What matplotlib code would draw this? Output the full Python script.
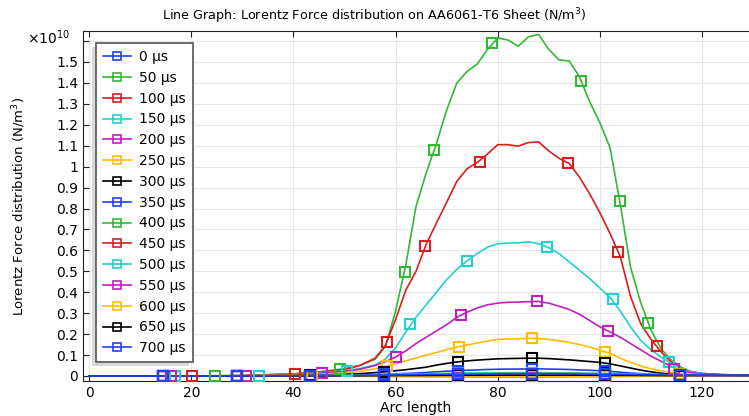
import matplotlib
matplotlib.use("Agg")
import matplotlib.pyplot as plt
from matplotlib.patches import Rectangle
from matplotlib.ticker import FuncFormatter

# arc length grid (mm) used by the large curves
x_fine = [0, 10, 20, 30, 40, 45, 50, 53, 56, 58, 60, 62, 64, 66, 68, 70, 72, 74, 76, 78,
          80, 82, 84, 86, 88, 90, 92, 94, 96, 98, 100, 102, 104, 106, 108, 110, 112, 114,
          116, 118, 120, 124, 130]
# coarse grid for the nearly flat curves
x_coarse = [0, 20, 40, 50, 60, 70, 80, 86, 95, 105, 115, 120, 130]

# Lorentz force, units of 1e10 N/m^3
y_50 = [0, 0, 0, 0.002, 0.01, 0.02, 0.035, 0.05, 0.08, 0.14, 0.31, 0.53, 0.81, 0.97, 1.11,
        1.27, 1.40, 1.455, 1.49, 1.56, 1.615, 1.605, 1.575, 1.62, 1.632, 1.56, 1.51, 1.505,
        1.43, 1.31, 1.21, 1.09, 0.82, 0.52, 0.35, 0.22, 0.13, 0.075, 0.04, 0.02, 0.012,
        0.006, 0.004]
y_100 = [0, 0, 0, 0.002, 0.01, 0.018, 0.03, 0.05, 0.085, 0.145, 0.27, 0.41, 0.50, 0.63,
         0.73, 0.83, 0.93, 0.99, 1.02, 1.06, 1.105, 1.105, 1.098, 1.115, 1.118, 1.075, 1.04,
         1.015, 0.95, 0.87, 0.78, 0.68, 0.57, 0.38, 0.25, 0.175, 0.115, 0.065, 0.035, 0.02,
         0.012, 0.006, 0.004]
y_150 = [0, 0, 0, 0.001, 0.008, 0.015, 0.025, 0.035, 0.053, 0.08, 0.135, 0.21, 0.28, 0.34,
         0.40, 0.46, 0.51, 0.55, 0.585, 0.615, 0.632, 0.635, 0.636, 0.641, 0.632, 0.613,
         0.585, 0.545, 0.505, 0.465, 0.42, 0.375, 0.31, 0.235, 0.17, 0.125, 0.09, 0.06,
         0.035, 0.02, 0.012, 0.006, 0.004]
y_200 = [0, 0, 0, 0.001, 0.006, 0.013, 0.022, 0.032, 0.05, 0.068, 0.09, 0.12, 0.155, 0.185,
         0.215, 0.245, 0.28, 0.305, 0.325, 0.34, 0.348, 0.352, 0.353, 0.355, 0.356, 0.348,
         0.333, 0.318, 0.295, 0.265, 0.235, 0.21, 0.185, 0.155, 0.125, 0.095, 0.07, 0.045,
         0.025, 0.015, 0.01, 0.006, 0.004]
y_250 = [0, 0, 0, 0.001, 0.004, 0.008, 0.015, 0.022, 0.035, 0.046, 0.058, 0.072, 0.086,
         0.10, 0.112, 0.125, 0.138, 0.148, 0.158, 0.167, 0.174, 0.177, 0.178, 0.18, 0.179,
         0.175, 0.168, 0.16, 0.15, 0.138, 0.123, 0.108, 0.085, 0.065, 0.048, 0.034, 0.024,
         0.016, 0.01, 0.007, 0.006, 0.005, 0.004]
y_300 = [0, 0, 0, 0.001, 0.002, 0.004, 0.008, 0.011, 0.016, 0.02, 0.025, 0.03, 0.036, 0.042,
         0.052, 0.06, 0.067, 0.072, 0.076, 0.079, 0.082, 0.083, 0.084, 0.085, 0.085, 0.083,
         0.08, 0.077, 0.073, 0.069, 0.065, 0.058, 0.048, 0.038, 0.028, 0.02, 0.013, 0.008,
         0.005, 0.004, 0.004, 0.004, 0.004]
y_350 = [0, 0, 0, 0, 0.001, 0.002, 0.003, 0.004, 0.006, 0.008, 0.01, 0.012, 0.014, 0.017,
         0.02, 0.023, 0.025, 0.027, 0.029, 0.031, 0.032, 0.033, 0.033, 0.034, 0.034, 0.033,
         0.032, 0.031, 0.029, 0.027, 0.025, 0.022, 0.018, 0.014, 0.011, 0.008, 0.006, 0.005,
         0.004, 0.004, 0.004, 0.004, 0.004]
y_0 = [0] * len(x_coarse)
y_400 = [0, 0, 0.001, 0.004, 0.008, 0.012, 0.015, 0.016, 0.014, 0.01, 0.005, 0.004, 0.004]
y_450 = [0, 0, 0.001, 0.003, 0.006, 0.009, 0.011, 0.012, 0.011, 0.008, 0.004, 0.004, 0.004]
y_500 = [0, 0, 0.001, 0.003, 0.007, 0.011, 0.013, 0.014, 0.012, 0.009, 0.005, 0.004, 0.004]
y_550 = [0, 0, 0, -0.001, -0.002, -0.003, -0.004, -0.004, -0.003, -0.002, 0, 0.002, 0.003]
y_600 = [0, 0, 0, 0, -0.001, -0.002, -0.002, -0.002, -0.002, -0.001, 0, 0.002, 0.003]
y_650 = [0, 0, 0, 0.001, 0.002, 0.003, 0.004, 0.004, 0.004, 0.003, 0.002, 0.003, 0.003]
y_700 = [0, 0, 0.001, 0.002, 0.005, 0.008, 0.01, 0.011, 0.01, 0.007, 0.004, 0.004, 0.004]

# marker positions as placed on the reference curves
mx_even = [14.4, 28.9, 43.3, 57.8, 72.2, 86.7, 101.1, 115.6]
mx_50 = [24.7, 49.1, 61.8, 67.6, 78.8, 96.4, 103.9, 109.5]
my_50 = [0, 0.032, 0.496, 1.081, 1.592, 1.41, 0.836, 0.252]
mx_100 = [20.1, 40.3, 58.4, 65.8, 76.5, 93.7, 103.6, 111.1]
my_100 = [0, 0.01, 0.16, 0.622, 1.022, 1.018, 0.592, 0.144]
mx_150 = [16.8, 33.3, 50.4, 62.9, 74.0, 89.7, 102.5, 113.5]
my_150 = [0, 0.002, 0.025, 0.247, 0.55, 0.616, 0.367, 0.068]
mx_200 = [16.1, 30.8, 45.5, 60.1, 72.9, 87.7, 101.6, 114.5]
my_200 = [0, 0.001, 0.013, 0.092, 0.29, 0.356, 0.215, 0.035]
mx_250 = [14.5, 29.0, 43.6, 58.3, 72.4, 86.8, 101.1, 115.5]
my_250 = [0, 0.001, 0.006, 0.048, 0.14, 0.18, 0.116, 0.011]
my_300 = [0, 0.001, 0.003, 0.02, 0.068, 0.085, 0.064, 0.005]
my_350 = [0, 0, 0.001, 0.008, 0.025, 0.034, 0.025, 0.004]
my_0 = [0, 0, 0, 0, 0, 0, 0, 0]
my_400 = [0, 0, 0.001, 0.006, 0.012, 0.016, 0.011, 0.005]
my_450 = [0, 0, 0.001, 0.005, 0.009, 0.012, 0.009, 0.004]
my_500 = [0, 0, 0.001, 0.005, 0.011, 0.014, 0.01, 0.005]
my_550 = [0, 0, 0, -0.002, -0.003, -0.004, -0.002, 0]
my_600 = [0, 0, 0, -0.001, -0.002, -0.002, -0.001, 0]
my_650 = [0, 0, 0, 0.002, 0.003, 0.004, 0.003, 0.002]
my_700 = [0, 0, 0.001, 0.004, 0.008, 0.011, 0.008, 0.004]

labels = ["0 µs", "50 µs", "100 µs", "150 µs", "200 µs", "250 µs", "300 µs", "350 µs",
          "400 µs", "450 µs", "500 µs", "550 µs", "600 µs", "650 µs", "700 µs"]
palette = ["#2040ff", "#33b833", "#d81e1e", "#22d0d0", "#c020c0", "#ffbb00", "#000000"]


def main():
    plt.rcParams["font.family"] = ["DejaVu Sans"]
    plt.rcParams["font.size"] = 9.5

    series = [
        (x_coarse, y_0, mx_even, my_0),
        (x_fine, y_50, mx_50, my_50),
        (x_fine, y_100, mx_100, my_100),
        (x_fine, y_150, mx_150, my_150),
        (x_fine, y_200, mx_200, my_200),
        (x_fine, y_250, mx_250, my_250),
        (x_fine, y_300, mx_even, my_300),
        (x_fine, y_350, mx_even, my_350),
        (x_coarse, y_400, mx_even, my_400),
        (x_coarse, y_450, mx_even, my_450),
        (x_coarse, y_500, mx_even, my_500),
        (x_coarse, y_550, mx_even, my_550),
        (x_coarse, y_600, mx_even, my_600),
        (x_coarse, y_650, mx_even, my_650),
        (x_coarse, y_700, mx_even, my_700),
    ]

    fig = plt.figure(figsize=(7.49, 4.16), dpi=100)
    ax = fig.add_axes([83 / 749, 35 / 416, 666 / 749, 350 / 416])

    for i, (xs, ys, mx, my) in enumerate(series):
        c = palette[i % len(palette)]
        ax.plot(xs, ys, color=c, lw=1.2, zorder=3)
        ax.plot(mx, my, ls="none", marker="s", ms=7, mfc="none", mec=c, mew=1.5, zorder=4)
        # legend proxy
        ax.plot([], [], color=c, lw=1.2, marker="s", ms=6, mfc="none", mec=c,
                mew=1.2, label=labels[i])

    ax.set_xlim(-1.2, 129.2)
    ax.set_ylim(-0.024, 1.648)
    ax.set_xticks([0, 20, 40, 60, 80, 100, 120])
    ax.set_yticks([i / 10 for i in range(17)])
    ax.yaxis.set_major_formatter(FuncFormatter(lambda v, p: "" if v > 1.55 else f"{v:g}"))
    ax.tick_params(direction="in", top=True, right=False, length=4, labelsize=10,
                   color="#222222")
    ax.grid(True, color="#e6e6e6", lw=0.8, zorder=0)
    ax.spines["right"].set_visible(False)
    for s in ("left", "bottom", "top"):
        ax.spines[s].set_color("#222222")

    ax.set_xlabel("Arc length", labelpad=1, fontsize=10)
    ax.set_ylabel("Lorentz Force distribution (N/m$^3$)", fontsize=9.5)
    ax.yaxis.set_label_coords(-0.082, 0.5)
    fig.text(0.5, 1 - 16 / 416, "Line Graph: Lorentz Force distribution on AA6061-T6 Sheet (N/m$^3$)",
             ha="center", va="center", fontsize=9.2)
    fig.text(27 / 749, 1 - 38 / 416, r"$\times10^{10}$", ha="left", va="center", fontsize=10)

    leg = ax.legend(loc="upper left", bbox_to_anchor=(13 / 666, 1 - 12 / 350),
                    borderaxespad=0, fancybox=False, framealpha=1, edgecolor="#555555",
                    handlelength=2.0, labelspacing=0.49, borderpad=0.5, handletextpad=0.6,
                    fontsize=10)
    leg.get_frame().set_linewidth(1.2)
    leg.set_zorder(10)

    # soft shadow to the lower left of the legend box
    fig.canvas.draw()
    bb = leg.get_window_extent()
    shadow = Rectangle((bb.x0 - 4, bb.y0 - 4), bb.width, bb.height, transform=None,
                       facecolor="#d9d9d9", edgecolor="none", zorder=9)
    ax.add_artist(shadow)

    fig.savefig("out.png", dpi=100)
    print("[OK] saved out.png")


if __name__ == "__main__":
    main()
